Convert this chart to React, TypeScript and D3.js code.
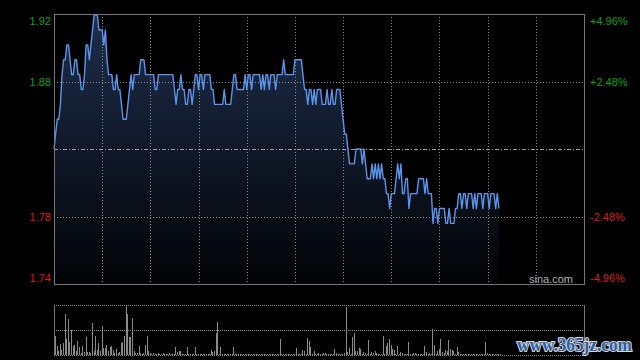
import React from "react";
import * as d3 from "d3";

// previous close and the intraday session length (minutes, 30-min grid)
const prevClose = 1.83;
const sessionMinutes = 330;
const gridMinutes = [30, 60, 90, 120, 150, 180, 210, 240, 270, 300];

const pctLevels = [0.0496, 0.0248, -0.0248, -0.0496];
const priceLabels = ["1.92", "1.88", "1.78", "1.74"];
const pctLabels = ["+4.96%", "+2.48%", "-2.48%", "-4.96%"];

// minute-by-minute last price
const prices = [
  1.83, 1.84, 1.85, 1.85, 1.86, 1.88, 1.89, 1.89, 1.9, 1.9,
  1.89, 1.88, 1.88, 1.89, 1.89, 1.88, 1.88, 1.87, 1.87, 1.88,
  1.9, 1.9, 1.89, 1.9, 1.91, 1.92, 1.92, 1.92, 1.91, 1.91,
  1.91, 1.9, 1.91, 1.89, 1.88, 1.88, 1.88, 1.87, 1.87, 1.88,
  1.87, 1.87, 1.86, 1.85, 1.85, 1.85, 1.86, 1.87, 1.88, 1.87,
  1.88, 1.88, 1.88, 1.88, 1.89, 1.89, 1.89, 1.88, 1.88, 1.88,
  1.88, 1.88, 1.88, 1.87, 1.87, 1.88, 1.88, 1.88, 1.88, 1.88,
  1.88, 1.88, 1.88, 1.88, 1.88, 1.87, 1.86, 1.87, 1.87, 1.88,
  1.87, 1.87, 1.86, 1.86, 1.87, 1.87, 1.86, 1.87, 1.88, 1.88,
  1.87, 1.88, 1.88, 1.87, 1.88, 1.88, 1.88, 1.88, 1.87, 1.87,
  1.86, 1.86, 1.86, 1.86, 1.86, 1.86, 1.87, 1.86, 1.86, 1.86,
  1.86, 1.87, 1.88, 1.88, 1.87, 1.87, 1.87, 1.87, 1.87, 1.88,
  1.87, 1.88, 1.88, 1.87, 1.88, 1.88, 1.88, 1.88, 1.88, 1.87,
  1.88, 1.87, 1.88, 1.88, 1.87, 1.88, 1.88, 1.88, 1.87, 1.88,
  1.88, 1.88, 1.88, 1.89, 1.88, 1.88, 1.88, 1.88, 1.88, 1.88,
  1.89, 1.89, 1.89, 1.89, 1.89, 1.88, 1.87, 1.87, 1.86, 1.87,
  1.87, 1.86, 1.87, 1.86, 1.87, 1.87, 1.87, 1.86, 1.86, 1.86,
  1.87, 1.86, 1.86, 1.87, 1.86, 1.86, 1.87, 1.87, 1.87, 1.86,
  1.85, 1.84, 1.84, 1.83, 1.82, 1.82, 1.82, 1.82, 1.83, 1.83,
  1.83, 1.83, 1.82, 1.83, 1.82, 1.81, 1.81, 1.81, 1.82, 1.81,
  1.82, 1.81, 1.82, 1.81, 1.82, 1.81, 1.81, 1.8, 1.8, 1.79,
  1.8, 1.8, 1.8, 1.81, 1.82, 1.81, 1.82, 1.8, 1.8, 1.81,
  1.81, 1.79, 1.8, 1.8, 1.8, 1.8, 1.8, 1.81, 1.81, 1.81,
  1.81, 1.8, 1.81, 1.8, 1.8, 1.8, 1.78, 1.79, 1.79, 1.78,
  1.79, 1.79, 1.79, 1.79, 1.78, 1.78, 1.79, 1.78, 1.78, 1.78,
  1.79, 1.79, 1.8, 1.8, 1.79, 1.8, 1.8, 1.79, 1.8, 1.8,
  1.8, 1.79, 1.8, 1.79, 1.8, 1.8, 1.8, 1.79, 1.8, 1.8,
  1.8, 1.79, 1.8, 1.8, 1.8, 1.79, 1.8, 1.79,
];

// minute volume (arbitrary units)
const volumes = [
  19, 9, 4, 11, 5, 12, 41, 16, 36, 13,
  25, 9, 10, 4, 14, 8, 2, 9, 3, 18,
  3, 3, 2, 32, 4, 19, 5, 12, 4, 29,
  7, 7, 10, 4, 8, 9, 5, 2, 6, 2,
  3, 12, 13, 19, 49, 41, 18, 18, 37, 4,
  2, 2, 9, 2, 1, 2, 10, 19, 4, 2,
  1, 2, 1, 1, 2, 1, 1, 2, 1, 1,
  1, 2, 1, 1, 1, 8, 3, 4, 4, 1,
  1, 1, 8, 1, 1, 1, 1, 8, 1, 1,
  1, 1, 1, 1, 1, 1, 1, 5, 3, 4,
  22, 33, 1, 8, 1, 1, 1, 1, 1, 1,
  1, 8, 1, 1, 1, 1, 1, 1, 1, 1,
  1, 1, 1, 1, 1, 1, 1, 1, 1, 1,
  1, 1, 1, 1, 1, 1, 1, 1, 1, 1,
  16, 1, 1, 1, 1, 1, 1, 1, 1, 1,
  7, 1, 1, 1, 5, 4, 1, 17, 14, 8,
  1, 4, 1, 1, 2, 1, 1, 2, 2, 1,
  1, 1, 1, 1, 6, 2, 1, 1, 1, 1,
  2, 48, 3, 7, 1, 18, 22, 4, 4, 7,
  6, 1, 3, 2, 1, 15, 1, 3, 2, 4,
  2, 1, 1, 1, 19, 1, 9, 12, 16, 10,
  6, 5, 1, 9, 1, 3, 2, 1, 1, 1,
  13, 1, 1, 2, 2, 1, 1, 1, 1, 1,
  9, 3, 1, 2, 1, 26, 10, 1, 4, 6,
  16, 3, 2, 5, 4, 15, 6, 5, 4, 1,
  8, 3, 1, 1, 1, 1, 1, 1, 1, 1,
  1, 1, 1, 1, 1, 1, 1, 1, 13, 2,
  1, 1, 1, 1, 1, 1, 1, 1,
];
const volumeMax = 50;

const W = 640;
const H = 360;
const plot = { left: 54, right: 584, top: 14, bottom: 284 };
const vol = { top: 305, bottom: 355 };

const gridColor = "#8a8a8a";
const frameColor = "#767676";
const upColor = "#11a011";
const downColor = "#dd1a1a";
const font = "'Liberation Sans', Arial, sans-serif";

export default function App() {
  const x = d3.scaleLinear().domain([0, sessionMinutes]).range([plot.left, plot.right]);
  const y = d3
    .scaleLinear()
    .domain([prevClose * (1 - 0.0496), prevClose * (1 + 0.0496)])
    .range([plot.bottom, plot.top]);
  const yv = d3.scaleLinear().domain([0, volumeMax]).range([vol.bottom, vol.top]);

  const line = d3
    .line<number>()
    .x((_, i) => x(i))
    .y((d) => y(d));
  const area = d3
    .area<number>()
    .x((_, i) => x(i))
    .y0(plot.bottom)
    .y1((d) => y(d));

  const crisp = (v: number) => Math.round(v) + 0.5;
  const labelY = (v: number) => Math.min(Math.max(y(v), plot.top + 6.5), plot.bottom - 6) + 4;

  return (
    <svg
      width={W}
      height={H}
      style={{ position: "absolute", left: 0, top: 0, display: "block" }}
    >
      <defs>
        <linearGradient id="fillGrad" gradientUnits="userSpaceOnUse" x1="0" y1={plot.top} x2="0" y2={plot.bottom}>
          <stop offset="0" stopColor="#1e2e4c" />
          <stop offset="1" stopColor="#020305" />
        </linearGradient>
      </defs>
      <rect width={W} height={H} fill="#000" />

      {/* price area */}
      <path d={area(prices) ?? ""} fill="url(#fillGrad)" />

      {/* grid */}
      {gridMinutes.map((m) => (
        <line
          key={"v" + m}
          x1={crisp(x(m))}
          x2={crisp(x(m))}
          y1={plot.top}
          y2={plot.bottom}
          stroke={gridColor}
          strokeDasharray="1,2"
        />
      ))}
      {pctLevels
        .filter((p) => Math.abs(p) < 0.04)
        .map((p) => (
          <line
            key={"h" + p}
            x1={plot.left}
            x2={plot.right}
            y1={crisp(y(prevClose * (1 + p)))}
            y2={crisp(y(prevClose * (1 + p)))}
            stroke={gridColor}
            strokeDasharray="1,2"
          />
        ))}
      <line
        x1={plot.left}
        x2={plot.right}
        y1={crisp(y(prevClose))}
        y2={crisp(y(prevClose))}
        stroke="#a0a0a0"
        strokeDasharray="4,2,1,2"
      />

      {/* price line */}
      <path d={line(prices) ?? ""} fill="none" stroke="#5b95ea" strokeWidth={1.4} strokeLinejoin="round" />

      {/* frame */}
      <rect
        x={plot.left + 0.5}
        y={plot.top + 0.5}
        width={plot.right - plot.left}
        height={plot.bottom - plot.top}
        fill="none"
        stroke={frameColor}
      />

      {/* axis labels */}
      {pctLevels.map((p, i) => (
        <text
          key={"l" + i}
          x={51}
          y={labelY(prevClose * (1 + p))}
          textAnchor="end"
          fontFamily={font}
          fontSize={11}
          fill={p > 0 ? upColor : downColor}
        >
          {priceLabels[i]}
        </text>
      ))}
      {pctLevels.map((p, i) => (
        <text
          key={"r" + i}
          x={590}
          y={labelY(prevClose * (1 + p))}
          textAnchor="start"
          fontFamily={font}
          fontSize={11}
          fill={p > 0 ? upColor : downColor}
        >
          {pctLabels[i]}
        </text>
      ))}

      <text x={573} y={283} textAnchor="end" fontFamily={font} fontSize={11} fill="#b0b0b0">
        sina.com
      </text>

      {/* volume panel */}
      {[vol.top, (vol.top + vol.bottom) / 2, vol.bottom].map((v) => (
        <line
          key={"vg" + v}
          x1={plot.left}
          x2={plot.right}
          y1={v + 0.5}
          y2={v + 0.5}
          stroke={gridColor}
          strokeDasharray="1,1"
        />
      ))}
      <line x1={plot.left + 0.5} x2={plot.left + 0.5} y1={vol.top} y2={vol.bottom} stroke={frameColor} />
      <line x1={plot.right + 0.5} x2={plot.right + 0.5} y1={vol.top} y2={vol.bottom + 1} stroke={frameColor} />
      {volumes.map((v, i) => (
        <rect
          key={"b" + i}
          x={Math.round(x(i)) + 1}
          y={yv(v)}
          width={1}
          height={vol.bottom - yv(v)}
          fill="#8a8a8a"
        />
      ))}

      {/* site watermark */}
      <text
        x={517}
        y={351}
        textLength={115}
        lengthAdjust="spacingAndGlyphs"
        fontFamily="'Liberation Serif', serif"
        fontWeight="bold"
        fontSize={18}
        fill="#2c5da8"
        stroke="#d8d8d8"
        strokeWidth={2}
        paintOrder="stroke"
      >
        www.365jz.com
      </text>
    </svg>
  );
}
